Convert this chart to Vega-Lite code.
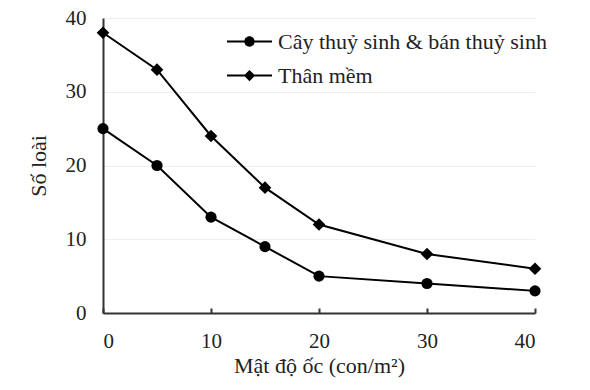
{
  "$schema": "https://vega.github.io/schema/vega-lite/v6.json",
  "width": 432,
  "height": 295,
  "autosize": {"type": "none"},
  "padding": {"left": 103, "top": 18, "right": 55, "bottom": 77},
  "background": "white",
  "config": {
    "view": {"stroke": null},
    "font": "Liberation Serif",
    "axis": {"labelFont": "Liberation Serif", "titleFont": "Liberation Serif", "labelColor": "#222", "titleColor": "#222", "labelFontSize": 21, "titleFontSize": 22, "titleFontWeight": "normal", "domainColor": "#333", "domainWidth": 2, "tickColor": "#333", "tickWidth": 2, "gridColor": "#efefef", "gridWidth": 1},
    "legend": {"labelFont": "Liberation Serif", "labelFontSize": 22, "labelColor": "#222", "labelLimit": 400}
  },
  "data": {"values": [
    {"x": 0, "y": 25, "s": "Cây thuỷ sinh & bán thuỷ sinh"},
    {"x": 5, "y": 20, "s": "Cây thuỷ sinh & bán thuỷ sinh"},
    {"x": 10, "y": 13, "s": "Cây thuỷ sinh & bán thuỷ sinh"},
    {"x": 15, "y": 9, "s": "Cây thuỷ sinh & bán thuỷ sinh"},
    {"x": 20, "y": 5, "s": "Cây thuỷ sinh & bán thuỷ sinh"},
    {"x": 30, "y": 4, "s": "Cây thuỷ sinh & bán thuỷ sinh"},
    {"x": 40, "y": 3, "s": "Cây thuỷ sinh & bán thuỷ sinh"},
    {"x": 0, "y": 38, "s": "Thân mềm"},
    {"x": 5, "y": 33, "s": "Thân mềm"},
    {"x": 10, "y": 24, "s": "Thân mềm"},
    {"x": 15, "y": 17, "s": "Thân mềm"},
    {"x": 20, "y": 12, "s": "Thân mềm"},
    {"x": 30, "y": 8, "s": "Thân mềm"},
    {"x": 40, "y": 6, "s": "Thân mềm"}
  ]},
  "encoding": {
    "x": {"field": "x", "type": "quantitative", "scale": {"domain": [0, 40], "nice": false}, "axis": {"values": [0, 10, 20, 30, 40], "title": "Mật độ ốc (con/m²)", "grid": false, "tickSize": -5, "labelPadding": 22, "titlePadding": 4}},
    "y": {"field": "y", "type": "quantitative", "scale": {"domain": [0, 40], "nice": false}, "axis": {"values": [0, 10, 20, 30, 40], "title": "Số loài", "grid": true, "ticks": false, "labelPadding": 17, "titlePadding": 15}}
  },
  "layer": [
    {"mark": {"type": "line", "color": "#000", "strokeWidth": 2}, "encoding": {"detail": {"field": "s"}}},
    {"transform": [{"filter": "datum.s == 'Thân mềm'"}], "mark": {"type": "point", "shape": "diamond", "filled": true, "color": "#000", "opacity": 1, "size": 160}},
    {"transform": [{"filter": "datum.s != 'Thân mềm'"}], "mark": {"type": "point", "shape": "circle", "filled": true, "color": "#000", "opacity": 1, "size": 125}},
    {"mark": {"type": "point", "filled": true, "color": "#000", "opacity": 0, "size": 10},
     "encoding": {"shape": {"field": "s", "type": "nominal",
       "scale": {"domain": ["Cây thuỷ sinh & bán thuỷ sinh", "Thân mềm"], "range": ["M-1,-0.045H-0.2V0.045H-1ZM0.2,-0.045H1V0.045H0.2ZM-0.23,0A0.23,0.23,0,1,1,0.23,0A0.23,0.23,0,1,1,-0.23,0Z", "M-1,-0.045H-0.2V0.045H-1ZM0.2,-0.045H1V0.045H0.2ZM0,-0.25L0.25,0L0,0.25L-0.25,0Z"]},
       "legend": {"title": null, "orient": "none", "legendX": 124, "legendY": 1, "symbolSize": 2025, "symbolOpacity": 1, "symbolStrokeWidth": 0, "symbolFillColor": "#000", "rowPadding": -2, "labelOffset": 6}}}
    }
  ]
}
